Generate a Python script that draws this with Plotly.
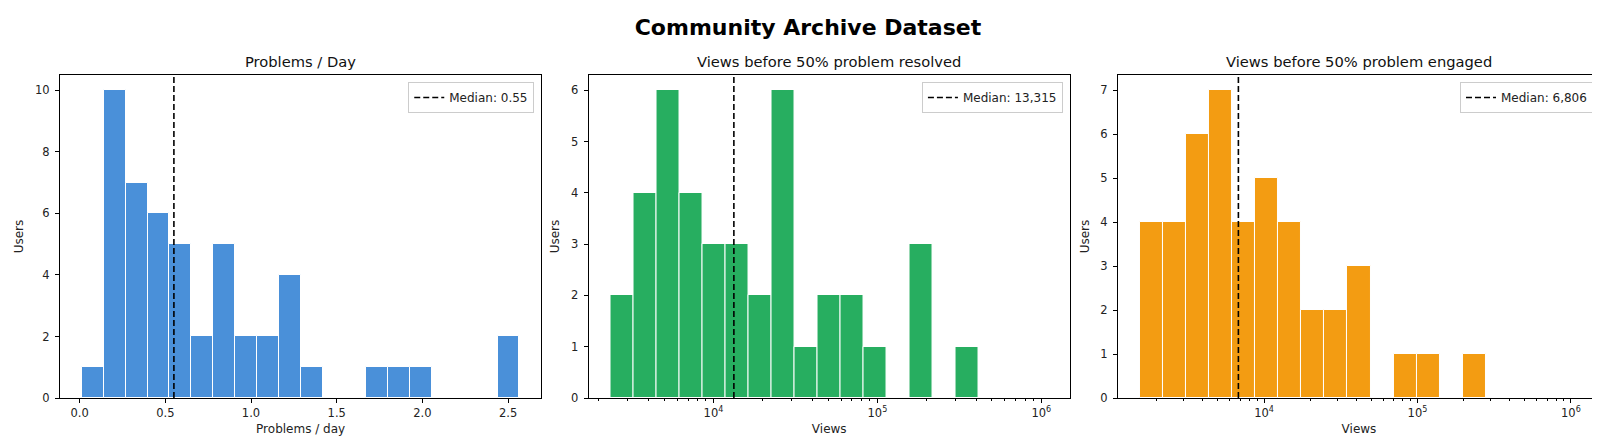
import numpy as np
import plotly.graph_objects as go

# users per bin
rate_counts = [1, 10, 7, 6, 5, 2, 5, 2, 2, 4, 1, 0, 0, 1, 1, 1, 0, 0, 0, 2]
rate_range = (0.013, 2.566)          # problems / day, linear bins
resolved_counts = [2, 4, 6, 4, 3, 3, 2, 6, 1, 2, 2, 1, 0, 3, 0, 1, 0, 0, 0]
resolved_range = (2350, 1.10e6)      # views, log bins
engaged_counts = [4, 4, 6, 7, 4, 5, 4, 2, 2, 3, 0, 1, 1, 0, 1, 0, 0, 0, 0]
engaged_range = (1552, 1.114e6)      # views, log bins

medians = [0.55, 13315, 6806]
median_labels = ["Median: 0.55", "Median: 13,315", "Median: 6,806"]
titles = ["Problems / Day", "Views before 50% problem resolved", "Views before 50% problem engaged"]
xlabels = ["Problems / day", "Views", "Views"]
colors = ["#4a90d9", "#27ae60", "#f39c12"]

panels = [
    (rate_counts, rate_range, False),
    (resolved_counts, resolved_range, True),
    (engaged_counts, engaged_range, True),
]

FONT = "DejaVu Sans"
W, H = 1600, 442
ML, MR, MT, MB = 52, 8, 67, 52
PW = W - ML - MR
PH = H - MT - MB
domains = [[0.0, 0.3125], [0.3432, 0.6558], [0.687, 1.0]]

fig = go.Figure()
annotations = []
layout = {}

for i, (counts, (lo, hi), is_log) in enumerate(panels):
    n = i + 1
    xa = "x" if n == 1 else f"x{n}"
    ya = "y" if n == 1 else f"y{n}"
    leg = "legend" if n == 1 else f"legend{n}"

    # log panels are drawn on a linear axis in log10 units
    if is_log:
        lo, hi = np.log10(lo), np.log10(hi)
        med = np.log10(medians[i])
    else:
        med = medians[i]
    edges = np.linspace(lo, hi, len(counts) + 1)
    centers = (edges[:-1] + edges[1:]) / 2
    widths = np.diff(edges)
    ytop = max(counts) * 1.05

    fig.add_trace(go.Bar(
        x=centers, y=counts, width=widths,
        marker=dict(color=colors[i], line=dict(color="white", width=1)),
        xaxis=xa, yaxis=ya, showlegend=False,
    ))
    fig.add_trace(go.Scatter(
        x=[med, med], y=[0, ytop], mode="lines",
        line=dict(color="black", width=1.6, dash="6px,3px"),
        name=median_labels[i], xaxis=xa, yaxis=ya, legend=leg,
    ))

    pad = 0.05 * (hi - lo)
    xaxis = dict(
        domain=domains[i], anchor=ya, range=[lo - pad, hi + pad],
        showline=True, mirror=True, linecolor="black", linewidth=1,
        ticks="outside", ticklen=4, tickcolor="black", showgrid=False, zeroline=False,
        tickfont=dict(family=FONT, size=11.5, color="#222"),
        title=dict(text=xlabels[i], font=dict(family=FONT, size=12, color="#222"), standoff=5),
    )
    if is_log:
        minor = [np.log10(k * 10.0 ** e) for e in range(3, 7) for k in range(2, 10)]
        minor = [v for v in minor if lo - pad < v < hi + pad]
        xaxis.update(
            tickmode="array", tickvals=[4, 5, 6],
            ticktext=["10<sup>4</sup>", "10<sup>5</sup>", "10<sup>6</sup>"],
            minor=dict(tickmode="array", tickvals=minor, ticks="outside",
                       ticklen=2, tickcolor="black", tickwidth=0.7, showgrid=False),
        )
    else:
        xaxis.update(tickmode="array", tickvals=[0, 0.5, 1.0, 1.5, 2.0, 2.5],
                     ticktext=["0.0", "0.5", "1.0", "1.5", "2.0", "2.5"])

    yaxis = dict(
        domain=[0, 1], anchor=xa, range=[0, ytop],
        showline=True, mirror=True, linecolor="black", linewidth=1,
        ticks="outside", ticklen=4, tickcolor="black", showgrid=False, zeroline=False,
        dtick=2 if n == 1 else 1, ticklabelstandoff=3,
        tickfont=dict(family=FONT, size=11.5, color="#222"),
        title=dict(text="Users", font=dict(family=FONT, size=12, color="#222"), standoff=8),
    )
    layout["xaxis" if n == 1 else f"xaxis{n}"] = xaxis
    layout["yaxis" if n == 1 else f"yaxis{n}"] = yaxis

    layout[leg] = dict(
        x=domains[i][1] - 7 / PW, xanchor="right", y=1 - 7 / PH, yanchor="top",
        bgcolor="rgba(255,255,255,0.8)", bordercolor="#cccccc", borderwidth=1,
        font=dict(family=FONT, size=12, color="#222"),
    )

    annotations.append(dict(
        text=titles[i], x=sum(domains[i]) / 2, y=1, xref="paper", yref="paper",
        xanchor="center", yanchor="bottom", yshift=3, showarrow=False,
        font=dict(family=FONT, size=14.7, color="#111"),
    ))

fig.update_layout(
    width=W, height=H,
    margin=dict(l=ML, r=MR, t=MT, b=MB),
    paper_bgcolor="white", plot_bgcolor="white",
    bargap=0,
    title=dict(text="<b>Community Archive Dataset</b>", x=0.5, xanchor="center",
               y=1 - 19 / H, yanchor="middle", yref="container",
               font=dict(family=FONT, size=22, color="black")),
    annotations=annotations,
    **layout,
)

fig.write_html("out.html")
